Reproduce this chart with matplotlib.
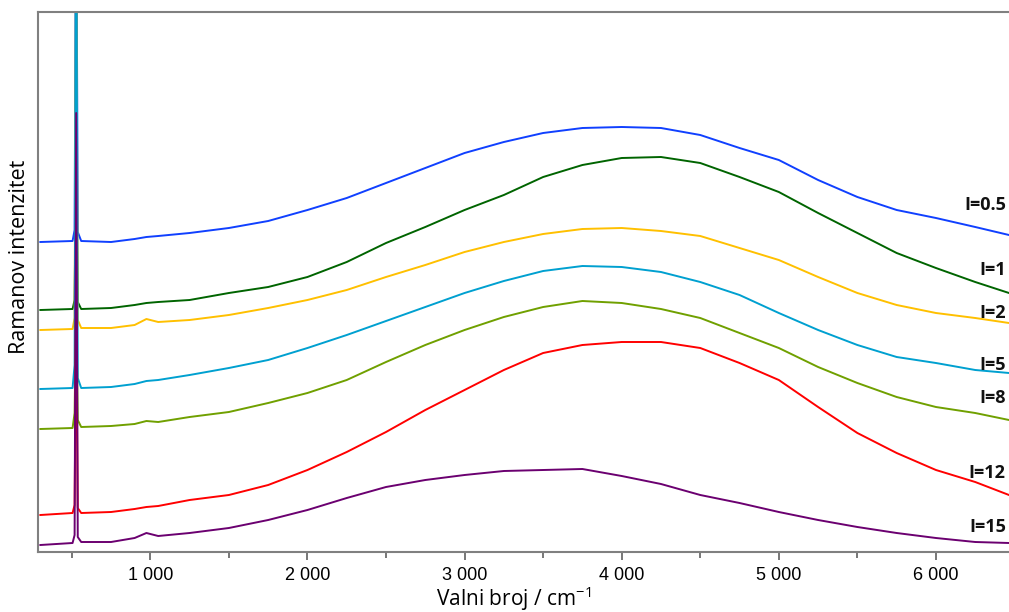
"""
Ramanovi spektri pri razlicitim ionskim jakostima (I) — rekonstrukcija grafa.
"""

import matplotlib
matplotlib.use("Agg")
import matplotlib.pyplot as plt
from matplotlib.ticker import FuncFormatter, MultipleLocator

# ---------------------------------------------------------------------------
# Podaci (ocitani s grafa, intenzitet u proizvoljnim jedinicama)
# ---------------------------------------------------------------------------
valni_broj = [300, 505, 518, 528, 538, 560, 750, 900, 975, 1050, 1250, 1500,
              1750, 2000, 2250, 2500, 2750, 3000, 3250, 3500, 3750, 4000,
              4250, 4500, 4750, 5000, 5250, 5500, 5750, 6000, 6250, 6465]

int_05 = [310, 311, 322, 700, 320, 311, 310, 313, 315, 316, 319, 324, 331, 342,
          354, 369, 384, 399, 410, 419, 424, 425, 424, 417, 404, 392, 372, 355,
          342, 334, 325, 317]
int_1 = [242, 243, 252, 402, 250, 243, 244, 247, 249, 250, 252, 259, 265, 275,
         290, 309, 325, 342, 357, 375, 387, 394, 395, 389, 375, 360, 339, 319,
         299, 284, 270, 259]
int_2 = [222, 223, 234, 650, 232, 224, 224, 227, 233, 230, 232, 237, 244, 252,
         262, 275, 287, 300, 310, 318, 323, 324, 321, 316, 304, 292, 275, 259,
         247, 239, 234, 229]
int_5 = [163, 164, 187, 700, 174, 164, 165, 168, 171, 172, 177, 184, 192, 204,
         217, 231, 245, 259, 271, 281, 286, 285, 280, 270, 257, 239, 222, 207,
         195, 189, 182, 179]
int_8 = [123, 124, 139, 252, 132, 125, 126, 128, 131, 130, 135, 140, 149, 159,
         172, 190, 207, 222, 235, 245, 251, 249, 243, 234, 219, 204, 185, 169,
         155, 145, 139, 132]
int_12 = [37, 39, 47, 242, 44, 39, 40, 43, 45, 46, 52, 57, 67, 82, 100, 120,
          142, 162, 182, 199, 207, 210, 210, 204, 189, 172, 145, 119, 99, 82,
          70, 57]
int_15 = [7, 9, 17, 439, 15, 10, 10, 14, 19, 16, 19, 24, 32, 42, 54, 65, 72,
          77, 81, 82, 83, 76, 68, 57, 49, 40, 32, 25, 19, 14, 10, 9]

oznake = ["I=0.5", "I=1", "I=2", "I=5", "I=8", "I=12", "I=15"]
oznake_y = [347, 282, 239, 187, 154, 79, 25]

SERIJE = [int_05, int_1, int_2, int_5, int_8, int_12, int_15]
BOJE = ["#1040FF", "#006400", "#FFC000", "#00A0D0", "#70A000", "#FF0000", "#6B0070"]

# ---------------------------------------------------------------------------
# Graf
# ---------------------------------------------------------------------------
fig = plt.figure(figsize=(10.09, 6.12), dpi=100)
ax = fig.add_axes([38 / 1009, 1 - 552 / 612, 1 - 38 / 1009, 540 / 612])

for y, boja in zip(SERIJE, BOJE):
    ax.plot(valni_broj, y, color=boja, linewidth=1.4)

for tekst, yy in zip(oznake, oznake_y):
    ax.text(6445, yy, tekst, ha="right", va="center", fontsize=13,
            fontweight="bold", family="Open Sans", color="#111111")

ax.set_xlim(285, 6465)
ax.set_ylim(0, 540)
ax.set_yticks([])

ax.xaxis.set_major_locator(MultipleLocator(1000))
ax.xaxis.set_minor_locator(MultipleLocator(500))
ax.xaxis.set_major_formatter(FuncFormatter(lambda x, _: f"{x:,.0f}".replace(",", " ")))
ax.tick_params(axis="x", which="major", direction="out", length=6, width=1.2,
               color="#606060", labelsize=13, pad=5)
ax.tick_params(axis="x", which="minor", direction="out", length=4, width=1.2,
               color="#606060")
for lbl in ax.get_xticklabels():
    lbl.set_family("Liberation Sans")

ax.spines["right"].set_visible(False)
for s in ("left", "top", "bottom"):
    ax.spines[s].set_color("#808080")
    ax.spines[s].set_linewidth(1.5)

fig.text(514 / 1009, 1 - 599 / 612, r"Valni broj / cm$^{\mathregular{-1}}$",
         ha="center", va="center", fontsize=15, family="Open Sans")
fig.text(20 / 1009, 1 - 257 / 612, "Ramanov intenzitet", ha="center",
         va="center", rotation=90, fontsize=15.5, family="Open Sans")

fig.savefig("out.png", dpi=100)
plt.close(fig)
